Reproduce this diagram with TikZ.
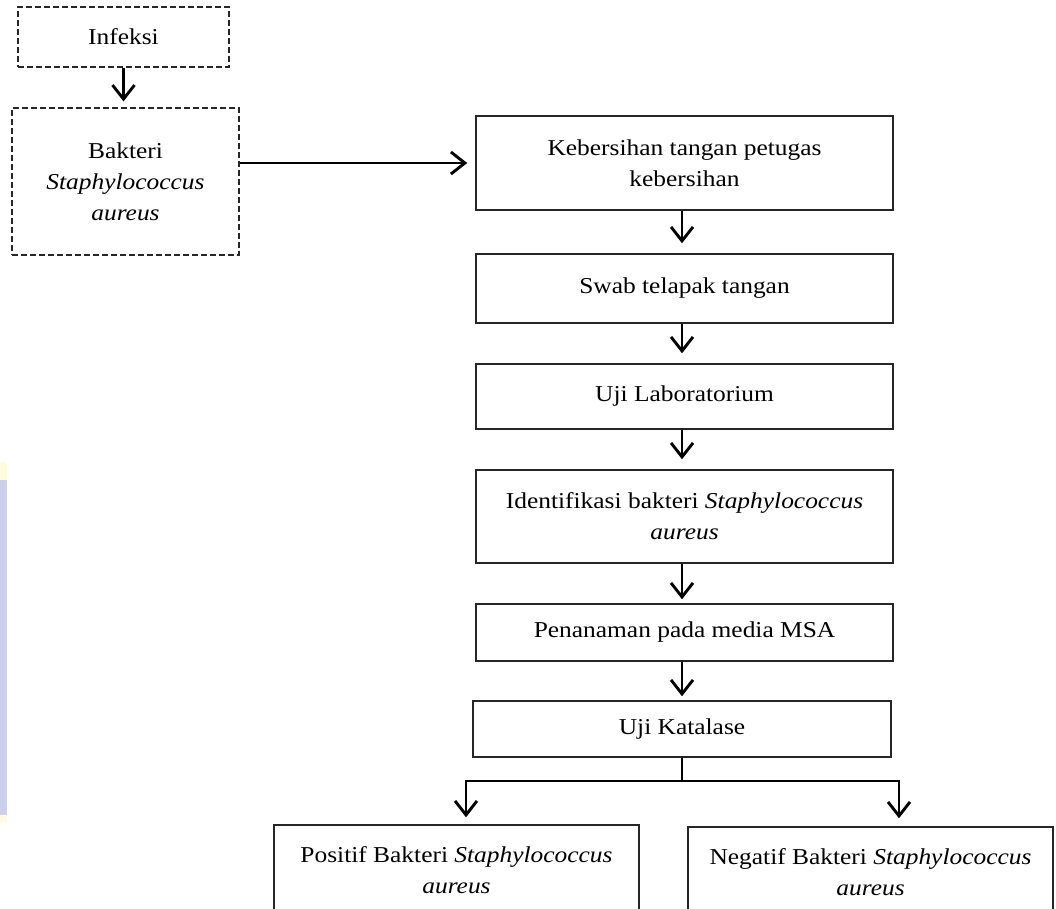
\documentclass[tikz,border=0pt]{standalone}
\usepackage{fontspec}
\setmainfont[FakeStretch=1.12]{Liberation Serif}
\usetikzlibrary{arrows.meta}
\definecolor{lav}{RGB}{205,205,236}
\definecolor{pale}{RGB}{255,252,220}
\begin{document}
\begin{tikzpicture}[x=1pt,y=-1pt,
  box/.style={draw=black!85, line width=1.5pt, align=center, font=\fontsize{22.7}{31}\selectfont, inner sep=0pt},
  dbox/.style={box, dash pattern=on 6pt off 3pt, line width=1.2pt},
  arr/.style={line width=2.9pt, -{Straight Barb[length=14pt,width=22pt,line width=2.9pt]}}]
\useasboundingbox (0,0) rectangle (1056,908);
\clip (0,0) rectangle (1056,908);
\fill[pale] (0,462) rectangle (7,480);
\fill[lav] (0,480) rectangle (7,815);
\fill[pale] (0,815) rectangle (7,822);
\node[dbox, minimum width=211, minimum height=60] (inf) at (123.5,37) {Infeksi};
\node[dbox, minimum width=227, minimum height=147] (bak) at (125.5,181.5) {Bakteri\\\textit{Staphylococcus}\\\textit{aureus}};
\node[box, minimum width=417, minimum height=94] (keb) at (684.5,163) {Kebersihan tangan petugas\\kebersihan};
\node[box, minimum width=417, minimum height=69] (swab) at (684.5,288.5) {Swab telapak tangan};
\node[box, minimum width=417, minimum height=65] (lab) at (684.5,396.5) {Uji Laboratorium};
\node[box, minimum width=417, minimum height=93] (idf) at (684.5,516.5) {Identifikasi bakteri \textit{Staphylococcus}\\\textit{aureus}};
\node[box, minimum width=417, minimum height=57] (msa) at (684.5,632.5) {Penanaman pada media MSA};
\node[box, minimum width=418, minimum height=56] (kat) at (682,729) {Uji Katalase};
\node[box, minimum width=365, minimum height=90] (pos) at (456.5,870) {Positif Bakteri \textit{Staphylococcus}\\\textit{aureus}};
\node[box, minimum width=365, minimum height=90] (neg) at (870.5,872) {Negatif Bakteri \textit{Staphylococcus}\\\textit{aureus}};
\draw[arr, shorten >=6pt] (inf.south) -- (inf.south |- bak.north);
\draw[arr, shorten >=8pt] (bak.east |- keb.west) -- (keb.west);
\draw[arr, shorten >=10pt] (keb.south -| kat.north) -- (swab.north -| kat.north);
\draw[arr, shorten >=10pt] (swab.south -| kat.north) -- (lab.north -| kat.north);
\draw[arr, shorten >=10pt] (lab.south -| kat.north) -- (idf.north -| kat.north);
\draw[arr, shorten >=4pt] (idf.south -| kat.north) -- (msa.north -| kat.north);
\draw[arr, shorten >=4pt] (msa.south -| kat.north) -- (kat.north);
\coordinate (bl) at (466,781);
\coordinate (br) at (899,781);
\draw[arr, shorten >=7pt] (kat.south) |- (bl) -- (bl |- pos.north);
\draw[arr, shorten >=8pt] (kat.south) |- (br) -- (br |- neg.north);
\end{tikzpicture}
\end{document}
